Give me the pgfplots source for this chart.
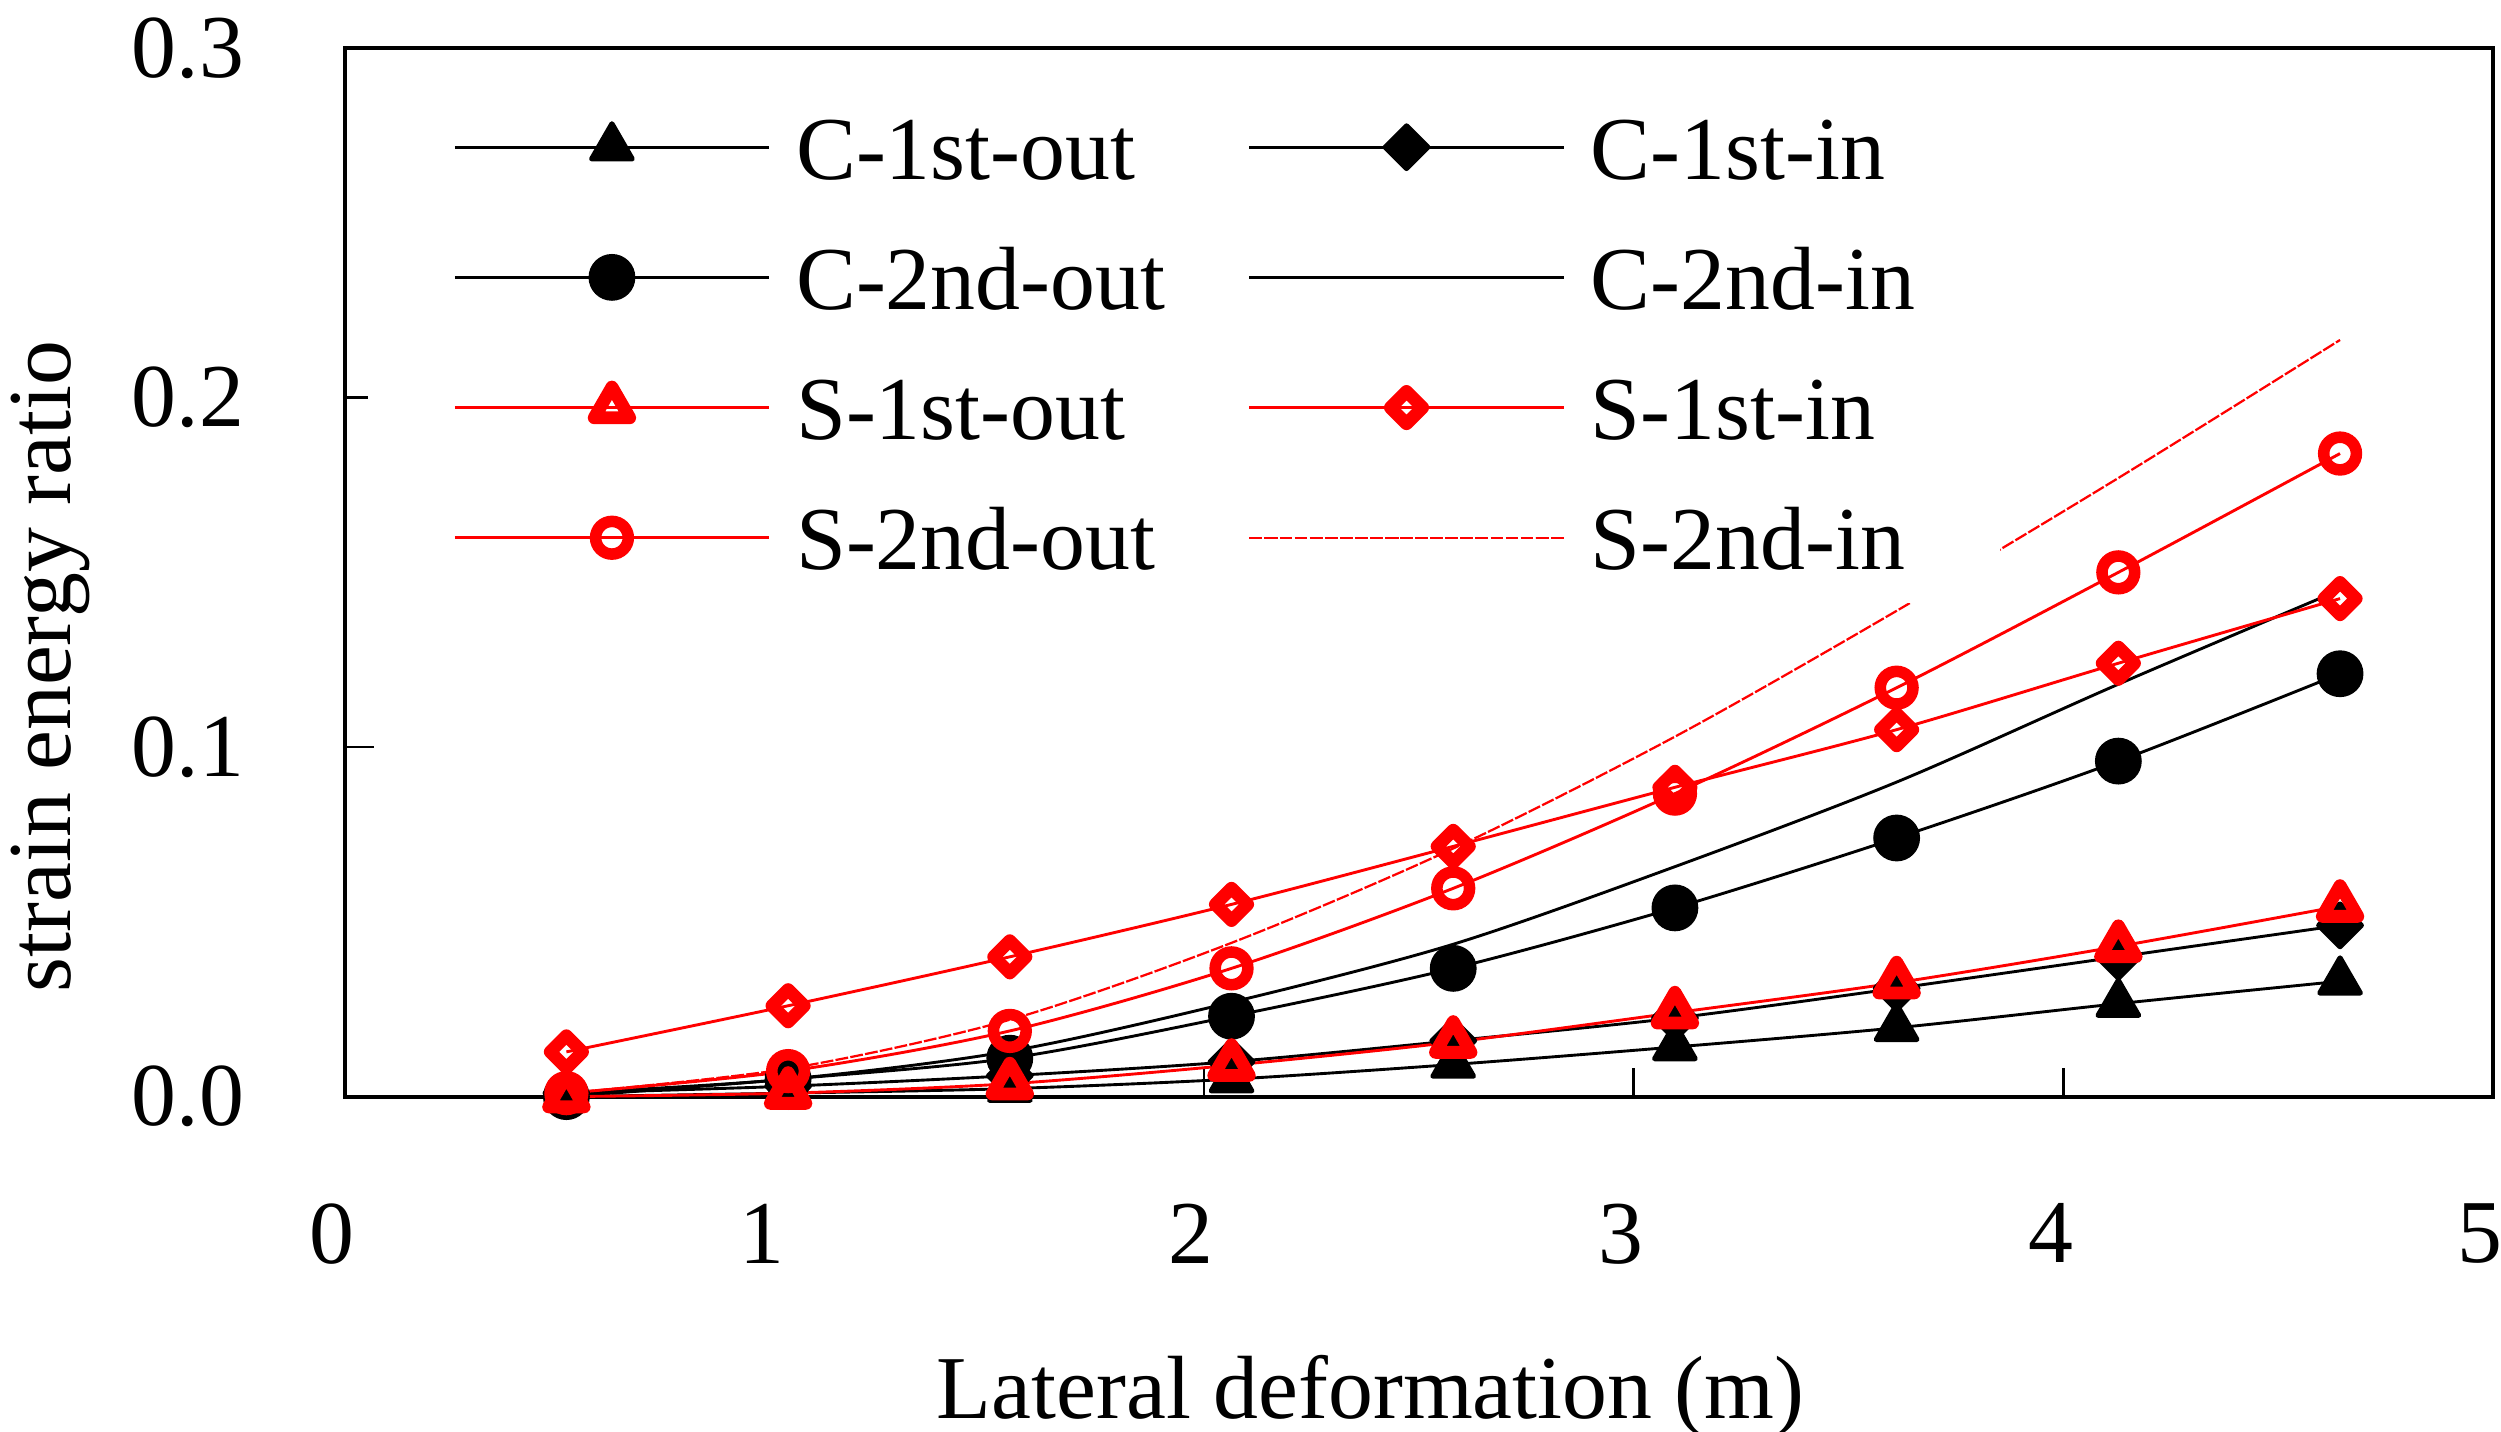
\documentclass[border=0pt]{standalone}
\usepackage{fontspec}
\setmainfont{Liberation Serif}
\usepackage{pgfplots}
\usepackage{pgfplotstable}
\pgfplotsset{compat=1.18}

\pgfplotstableread{
x     c1o    c1i    c2o    c2i    s1o    s1i    s2o    s2i
0.516 0.000  0.001  0.000  0.001  0.000  0.0128 0.001  0.001
1.032 0.001  0.003  0.005  0.005  0.001  0.026  0.0073 0.008
1.548 0.0023 0.006  0.011  0.013  0.0037 0.040  0.0188 0.022
2.064 0.005  0.010  0.023  0.027  0.009  0.055  0.0367 0.044
2.580 0.0092 0.016  0.0367 0.0436 0.0156 0.0716 0.0596 0.071
3.096 0.0142 0.0225 0.054  0.0658 0.024  0.0885 0.0867 0.103
3.612 0.0197 0.031  0.074  0.090  0.0326 0.105  0.117  0.139
4.128 0.0266 0.040  0.096  0.118  0.043  0.124  0.150  0.177
4.644 0.033  0.049  0.121  0.145  0.0545 0.1425 0.184  0.2165
}\data

\begin{document}
\begin{tikzpicture}[font=\fontsize{14}{16.8}\selectfont]
\begin{axis}[
  scale only axis,
  width=335pt, height=163.5pt,
  xmin=0, xmax=5, ymin=0, ymax=0.3,
  xtick={0,1,2,3,4,5},
  ytick={0,0.1,0.2,0.3},
  tick align=inside,
  xtick pos=bottom, ytick pos=left,
  major tick length=4.5pt,
  axis line style={line width=0.6pt},
  every tick/.style={black, line width=0.4pt},
  /pgf/number format/assume math mode=true,
  yticklabel style={/pgf/number format/fixed, /pgf/number format/fixed zerofill, /pgf/number format/precision=1, inner sep=0pt, anchor=east, xshift=-15.5pt},
  xticklabel style={inner sep=0pt, anchor=north, yshift=-16.5pt, xshift=-2pt},
  xlabel={Lateral deformation (m)},
  ylabel={strain energy ratio},
  xlabel style={at={(axis description cs:0.4776,-0.3073)}, anchor=base, inner sep=0pt},
  ylabel style={at={(axis description cs:-0.1278,0.41)}, anchor=base, inner sep=0pt},
  clip=false,
  legend columns=2,
  legend cell align=left,
  legend image code/.code={\draw[mark repeat=2,mark phase=2,#1] plot coordinates {(0pt,0pt) (24.5pt,0pt) (49pt,0pt)};},
  legend style={at={(axis description cs:0,1)}, anchor=north west, xshift=3.5pt, yshift=-5pt,
    fill=white, draw=none, inner xsep=13.25pt, inner ysep=4.25pt, row sep=8.3pt,
    nodes={inner sep=0pt, text height=11pt, text depth=1pt},
    /tikz/every odd column/.append style={column sep=4pt},
    /tikz/every even column/.append style={column sep=12.9pt}},
]
\addplot[black, line width=0.45pt, smooth, mark=triangle*, mark size=3.65pt, mark options={line join=round, line width=0.8pt}] table[x=x,y=c1o]{\data};
\addlegendentry{C-1st-out}
\addplot[black, line width=0.45pt, smooth, mark=square*, mark size=2.35pt, mark options={rotate=45, line join=round, line width=0.8pt}] table[x=x,y=c1i]{\data};
\addlegendentry{C-1st-in}
\addplot[black, line width=0.45pt, smooth, mark=*, mark size=3.45pt, mark options={line width=0.4pt}] table[x=x,y=c2o]{\data};
\addlegendentry{C-2nd-out}
\addplot[black, line width=0.45pt, smooth, no marks] table[x=x,y=c2i]{\data};
\addlegendentry{C-2nd-in}
\addplot[red, line width=0.45pt, smooth, mark=triangle, mark size=3.2pt, mark options={line join=round, line width=2pt}] table[x=x,y=s1o]{\data};
\addlegendentry{S-1st-out}
\addplot[red, line width=0.45pt, smooth, mark=square, mark size=1.78pt, mark options={rotate=45, line join=round, line width=2pt}] table[x=x,y=s1i]{\data};
\addlegendentry{S-1st-in}
\addplot[red, line width=0.45pt, smooth, mark=o, mark size=2.55pt, mark options={line width=1.8pt}] table[x=x,y=s2o]{\data};
\addlegendentry{S-2nd-out}
\addplot[red, line width=0.35pt, smooth, no marks, dash pattern=on 2pt off 0.35pt] table[x=x,y=s2i]{\data};
\addlegendentry{S-2nd-in}
\end{axis}
\pgfresetboundingbox
\path[use as bounding box] (-53.75pt,-52.25pt) rectangle (336.25pt,171pt);
\end{tikzpicture}
\end{document}
